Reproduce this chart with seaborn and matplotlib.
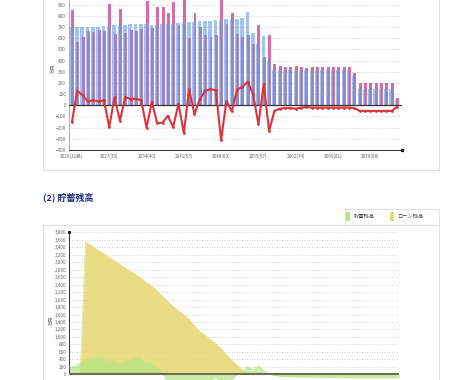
import numpy as np
import pandas as pd
import matplotlib
matplotlib.use("Agg")
import matplotlib.pyplot as plt
import seaborn as sns
from matplotlib.patches import Rectangle
from matplotlib.ticker import FuncFormatter

# ---------------- data ----------------
years = list(range(2020, 2082))

income = [700, 700, 700, 700, 700, 705, 710, 710, 715, 720,
          720, 725, 725, 730, 730, 720, 720, 725, 730, 730,
          735, 740, 745, 745, 755, 755, 755, 760, 765, 770,
          770, 775, 780, 835, 645, 550, 620, 395,
          320, 320, 320, 320, 320, 320, 320, 320, 320, 320,
          320, 320, 320, 320, 320,
          265,
          150, 150, 150, 150, 150, 150, 150,
          50]

expense = [850, 570, 610, 665, 655, 670, 665, 905, 640, 860,
           645, 670, 665, 685, 930, 690, 880, 880, 825, 925,
           720, 990, 600, 825, 700, 625, 610, 625, 1075, 730,
           825, 635, 615, 625, 545, 720, 430, 625,
           370, 350, 345, 345, 350, 340, 335, 340, 340, 340,
           340, 340, 340, 340, 340,
           290,
           200, 200, 200, 200, 200, 200, 200,
           65]

balance = [-150, 130, 90, 35, 45, 35, 45, -195, 75, -140,
           75, 55, 60, 45, -200, 30, -160, -155, -95, -195,
           15, -250, 145, -80, 55, 130, 145, 135, -310, 40,
           -55, 140, 165, 210, 100, -170, 190, -230,
           -50, -30, -25, -25, -30, -20, -15, -20, -20, -20,
           -20, -20, -20, -20, -20,
           -25,
           -50, -50, -50, -50, -50, -50, -50,
           -15]

savings = [200, 220, 300, 380, 410, 430, 460, 330, 370, 270,
           310, 370, 420, 450, 300, 290, 200, 80, -150, -300,
           -400, -450, -500, -450, -400, -350, -250, -60, -200, -200,
           -150, 0, 80, 200, 130, 230, 100, 0, -30, -50,
           -60, -65, -70, -70, -75, -75, -80, -80, -80, -85,
           -85, -85, -90, -90, -90, -90, -90, -90, -90, -90,
           -90, -90]

loan = [0, 0, 0, 3550, 3450, 3350, 3260, 3160, 3070, 2980,
        2880, 2790, 2700, 2600, 2490, 2380, 2270, 2120, 1980, 1840,
        1720, 1620, 1500, 1330, 1160, 1060, 950, 830, 700, 540,
        380, 250, 110, 0, 0, 0, 0, 0, 0, 0,
        0, 0, 0, 0, 0, 0, 0, 0, 0, 0,
        0, 0, 0, 0, 0, 0, 0, 0, 0, 0,
        0, 0]

xtick_years = [2020, 2027, 2034, 2041, 2048, 2055, 2062, 2069, 2076]
xtick_labels = ["2020(32歳)", "2027(39)", "2034(46)", "2041(53)", "2048(60)",
                "2055(67)", "2062(74)", "2069(81)", "2076(88)"]
legend_labels = ["貯蓄残高", "ローン残高"]
section_title = "(2) 貯蓄残高"
unit_label = "万円"

# ---------------- style ----------------
sns.set_theme(style="white")
plt.rcParams["font.family"] = ["Noto Sans CJK JP", "DejaVu Sans"]

BLUE = "#6a9ce6"
PINK = "#d26ea3"
RED = "#d9353f"
GREEN = "#b4e584"
YELLOW = "#e6d978"
TICK_C = "#666666"

W, H = 460, 380
fig = plt.figure(figsize=(W / 100, H / 100), dpi=100)
fig.patch.set_facecolor("white")


def fx(px):
    return px / W


def fy(py):
    return 1 - py / H


# panel frames
fig.patches.append(Rectangle((fx(43), fy(170)), fx(439) - fx(43), 1.0,
                             transform=fig.transFigure, fill=False,
                             edgecolor="#e0e0e0", lw=0.8, zorder=0))
fig.patches.append(Rectangle((fx(43), fy(420)), fx(439) - fx(43), fy(225) - fy(420),
                             transform=fig.transFigure, fill=False,
                             edgecolor="#e0e0e0", lw=0.8, zorder=0))
fig.patches.append(Rectangle((fx(345), fy(225)), fx(439) - fx(345), fy(209) - fy(225),
                             transform=fig.transFigure, fill=False,
                             edgecolor="#e0e0e0", lw=0.8, zorder=0))

# ---------------- top chart ----------------
df = pd.DataFrame({"year": years, "income": income, "expense": expense,
                   "balance": balance, "savings": savings, "loan": loan})

ax1 = fig.add_axes([fx(69), fy(150), fx(402) - fx(69), (150 + 6.4) / H])
yrs = np.array(years, dtype=float)
sns.barplot(x=yrs + 0.1, y=df["expense"], native_scale=True, width=0.55,
            color=PINK, saturation=1, errorbar=None, linewidth=0,
            ax=ax1, zorder=2)
sns.barplot(x=yrs - 0.06, y=df["income"], native_scale=True, width=0.68,
            color=BLUE, saturation=1, alpha=0.6, errorbar=None, linewidth=0,
            ax=ax1, zorder=3)
ax1.axhline(0, color="#333333", lw=0.9, zorder=4)
sns.lineplot(x=yrs, y=df["balance"], color=RED, lw=1.5, marker="o",
             markersize=2.0, markeredgewidth=0, ax=ax1, zorder=5)

ax1.set_xlim(2019.45, 2081.95)
ax1.set_ylim(-400, 1000)
ax1.set_yticks(range(-400, 901, 100))
ax1.set_xticks(xtick_years)
ax1.set_xticklabels(xtick_labels)
ax1.tick_params(axis="both", labelsize=3.3, colors=TICK_C, length=1.2, width=0.4, pad=1)
ax1.set_xlabel("")
ax1.set_ylabel("")
ax1.yaxis.grid(True, linestyle=(0, (1, 2)), color="#bdbdbd", lw=0.6)
ax1.xaxis.grid(False)
ax1.set_axisbelow(True)
for s in ["top", "right"]:
    ax1.spines[s].set_visible(False)
ax1.spines["left"].set_color("#a0a0a0")
ax1.spines["left"].set_linewidth(0.6)
ax1.spines["bottom"].set_color("#333333")
ax1.spines["bottom"].set_linewidth(0.7)
ax1.plot([1], [0], "s", transform=ax1.transAxes, color="black",
         markersize=1.4, clip_on=False)
fig.text(fx(53), fy(68), unit_label, rotation=90, fontsize=3.4,
         color=TICK_C, ha="center", va="center")

# ---------------- bottom section ----------------
fig.text(fx(43), fy(197), section_title, fontsize=6.5, fontweight="bold",
         color="#1f2a80", ha="left", va="center")

# legend (tab)
fig.patches.append(Rectangle((fx(346), fy(221)), fx(4.5), fy(212) - fy(221),
                             transform=fig.transFigure, color=GREEN, lw=0))
fig.text(fx(354), fy(216.5), legend_labels[0], fontsize=3.8, color="#444444",
         ha="left", va="center")
fig.patches.append(Rectangle((fx(390), fy(221)), fx(4.5), fy(212) - fy(221),
                             transform=fig.transFigure, color=YELLOW, lw=0))
fig.text(fx(397), fy(216.5), legend_labels[1], fontsize=3.8, color="#444444",
         ha="left", va="center")

ax2 = fig.add_axes([fx(69.3), fy(396.7), fx(399) - fx(69.3), (396.7 - 232.3) / H])
ax2.fill_between(df["year"], df["loan"], 0, color=YELLOW, alpha=0.9, lw=0, zorder=2)
ax2.fill_between(df["year"], df["savings"], 0, color=GREEN, alpha=0.7, lw=0, zorder=3)
sns.lineplot(x=df["year"], y=df["loan"], color=YELLOW, lw=0.4, ax=ax2, zorder=2)
sns.lineplot(x=df["year"], y=df["savings"], color=GREEN, lw=0.4, ax=ax2, zorder=3)
ax2.axhline(0, color="#6d6d55", lw=1.5, zorder=4)

ax2.set_xlim(2020, 2081)
ax2.set_ylim(-600, 3800)
ax2.set_yticks(range(0, 3801, 200))
ax2.yaxis.set_major_formatter(FuncFormatter(lambda v, p: f"{int(v):,}"))
ax2.set_xticks([])
ax2.tick_params(axis="y", labelsize=3.3, colors=TICK_C, length=1.2, width=0.4, pad=1)
ax2.set_xlabel("")
ax2.set_ylabel("")
ax2.yaxis.grid(True, linestyle=(0, (1, 2)), color="#bdbdbd", lw=0.6)
ax2.set_axisbelow(True)
for s in ["top", "right", "bottom"]:
    ax2.spines[s].set_visible(False)
ax2.spines["left"].set_color("#333333")
ax2.spines["left"].set_linewidth(0.7)
ax2.spines["left"].set_bounds(0, 3800)
ax2.plot([0], [3800], "s", transform=ax2.get_yaxis_transform(), color="black",
         markersize=1.2, clip_on=False)
fig.text(fx(51), fy(320), unit_label, rotation=90, fontsize=3.3,
         color=TICK_C, ha="center", va="center")

fig.savefig("out.png", dpi=100)
